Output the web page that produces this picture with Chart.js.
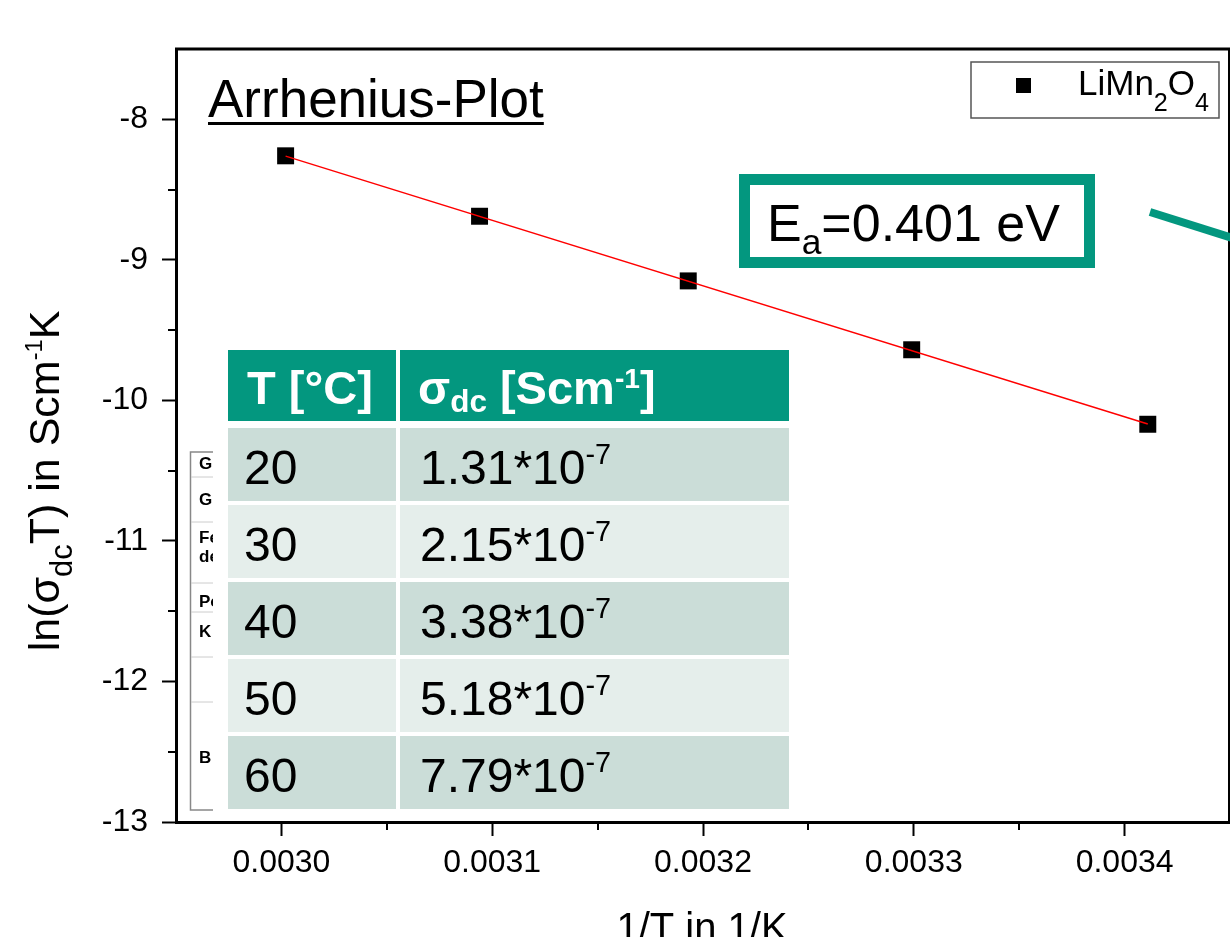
<!DOCTYPE html>
<html>
<head>
<meta charset="utf-8">
<script src="https://cdn.jsdelivr.net/npm/chart.js@4/dist/chart.umd.min.js"></script>
<style>
  html, body { margin: 0; padding: 0; background: #fff; }
</style>
</head>
<body>
<canvas id="arrhenius" width="1230" height="937"></canvas>
<script>
// Messpunkte
const invT = [0.003002, 0.003094, 0.003193, 0.003299, 0.003411];
const lnSigmaT = [-8.26, -8.69, -9.15, -9.64, -10.17];

// rote Ausgleichsgerade
const fitX = [0.003002, 0.003411];
const fitY = [-8.262, -10.168];

// Tabelle
const tableTemps = ["20", "30", "40", "50", "60"];
const tableSigma = ["1.31", "2.15", "3.38", "5.18", "7.79"];
const sigmaExp = "-7";
const activationEnergy = "0.401";

// Achsen
const xTicks = [0.0030, 0.0031, 0.0032, 0.0033, 0.0034];
const xTickLabels = ["0.0030", "0.0031", "0.0032", "0.0033", "0.0034"];
const xMinorTicks = [0.00305, 0.00315, 0.00325, 0.00335];
const yTicks = [-13, -12, -11, -10, -9, -8];
const yTickLabels = ["-13", "-12", "-11", "-10", "-9", "-8"];
const yMinorTicks = [-12.5, -11.5, -10.5, -9.5, -8.5];

const FONT = "'Liberation Sans', Arial, sans-serif";
const TEAL = "#03977f";

Chart.defaults.font.family = FONT;
Chart.defaults.color = "#000";

// text med sub/superscript: [text, storlek, förskjutning]
function richWidth(ctx, parts, size, weight) {
  let w = 0;
  parts.forEach(([t, f]) => {
    ctx.font = weight + " " + (size * f) + "px " + FONT;
    w += ctx.measureText(t).width;
  });
  return w;
}

function drawRich(ctx, x, y, parts, size, weight, color) {
  let cx = x;
  ctx.fillStyle = color;
  ctx.textAlign = "left";
  ctx.textBaseline = "alphabetic";
  parts.forEach(([t, f, dy]) => {
    ctx.font = weight + " " + (size * f) + "px " + FONT;
    ctx.fillText(t, cx, y + dy * size);
    cx += ctx.measureText(t).width;
  });
  return cx - x;
}

function line(ctx, x1, y1, x2, y2) {
  ctx.beginPath();
  ctx.moveTo(x1, y1);
  ctx.lineTo(x2, y2);
  ctx.stroke();
}

const extras = {
  id: "extras",
  afterDraw(chart) {
    const ctx = chart.ctx;
    const a = chart.chartArea;
    const xs = chart.scales.x;
    const ys = chart.scales.y;
    ctx.save();

    // små ticks
    ctx.strokeStyle = "#000";
    ctx.lineWidth = 2;
    xMinorTicks.forEach(v => {
      const px = Math.round(xs.getPixelForValue(v));
      line(ctx, px, a.bottom, px, a.bottom + 8);
    });
    yMinorTicks.forEach(v => {
      const py = Math.round(ys.getPixelForValue(v));
      line(ctx, a.left - 8, py, a.left, py);
    });

    // ram uppe och höger
    ctx.lineWidth = 3;
    line(ctx, a.left - 1, a.top, a.right, a.top);
    ctx.lineWidth = 2;
    line(ctx, a.right - 1, a.top, a.right - 1, a.bottom);

    // rubrik
    ctx.fillStyle = "#000";
    ctx.font = "53px " + FONT;
    ctx.textBaseline = "alphabetic";
    ctx.fillText("Arrhenius-Plot", 208, 117);
    const tw = ctx.measureText("Arrhenius-Plot").width;
    ctx.fillRect(208, 122, tw, 3);

    // legend
    ctx.strokeStyle = "#555";
    ctx.lineWidth = 1.5;
    ctx.strokeRect(971, 62, 248, 56);
    ctx.fillStyle = "#000";
    ctx.fillRect(1016, 78, 15, 15);
    drawRich(ctx, 1078, 95, [["LiMn", 1, 0], ["2", 0.72, 0.45], ["O", 1, 0], ["4", 0.72, 0.45]], 35, "normal", "#000");

    // Ea-ruta
    ctx.strokeStyle = TEAL;
    ctx.lineWidth = 11;
    ctx.strokeRect(744.5, 179.5, 345, 83);
    drawRich(ctx, 767, 241, [["E", 1, 0], ["a", 0.68, 0.25], ["=" + activationEnergy + " eV", 1, 0]], 52, "normal", "#000");
    ctx.lineWidth = 8;
    line(ctx, 1150, 212, 1245, 242);

    // gömd tabell bakom
    ctx.save();
    ctx.beginPath();
    ctx.rect(178, 440, 35, 380);
    ctx.clip();
    ctx.strokeStyle = "#888";
    ctx.lineWidth = 1.5;
    ctx.strokeRect(190.5, 452, 80, 358);
    ctx.strokeStyle = "#ccc";
    ctx.lineWidth = 1;
    [477, 522, 583, 612, 657, 702].forEach(y => line(ctx, 191, y, 213, y));
    ctx.fillStyle = "#000";
    ctx.font = "bold 17px " + FONT;
    ctx.textBaseline = "middle";
    [["G", 464], ["G", 500], ["Fe", 538], ["de", 557], ["Pe", 602], ["K", 632], ["B", 758]].forEach(([t, y]) => {
      ctx.fillText(t, 199, y);
    });
    ctx.restore();

    // tabell
    const c1 = 228, c2 = 400, c3 = 789;
    ctx.fillStyle = TEAL;
    ctx.fillRect(c1, 350, 168, 71);
    ctx.fillRect(c2, 350, c3 - c2, 71);
    drawRich(ctx, 247, 404, [["T [°C]", 1, 0]], 47, "bold", "#fff");
    drawRich(ctx, 418, 404, [["σ", 1, 0], ["dc", 0.67, 0.17], [" [Scm", 1, 0], ["-1", 0.6, -0.33], ["]", 1, 0]], 47, "bold", "#fff");
    tableTemps.forEach((t, i) => {
      const top = 428 + i * 77;
      ctx.fillStyle = i % 2 === 0 ? "#cbddd8" : "#e5eeeb";
      ctx.fillRect(c1, top, 168, 73);
      ctx.fillRect(c2, top, c3 - c2, 73);
      drawRich(ctx, 244, top + 56, [[t, 1, 0]], 48, "normal", "#000");
      drawRich(ctx, 420, top + 56, [[tableSigma[i] + "*10", 1, 0], [sigmaExp, 0.6, -0.42]], 48, "normal", "#000");
    });

    // axeltitlar
    const yParts = [["ln(σ", 1, 0], ["dc", 0.72, 0.3], ["T) in Scm", 1, 0], ["-1", 0.55, -0.4], ["K", 1, 0]];
    const yw = richWidth(ctx, yParts, 43, "normal");
    ctx.save();
    ctx.translate(59, 481);
    ctx.rotate(-Math.PI / 2);
    drawRich(ctx, -yw / 2, 0, yParts, 43, "normal", "#000");
    ctx.restore();

    ctx.font = "40px " + FONT;
    ctx.textAlign = "center";
    ctx.textBaseline = "alphabetic";
    ctx.fillStyle = "#000";
    ctx.fillText("1/T in 1/K", 702, 941);

    ctx.restore();
  }
};

const tickGrid = {
  display: true,
  drawOnChartArea: false,
  drawTicks: true,
  tickLength: 14,
  tickWidth: 2,
  tickColor: "#000"
};

new Chart(document.getElementById("arrhenius"), {
  type: "scatter",
  data: {
    datasets: [
      {
        label: "Fit",
        data: fitX.map((x, i) => ({ x: x, y: fitY[i] })),
        showLine: true,
        borderColor: "#ff0000",
        borderWidth: 1.5,
        pointRadius: 0,
        order: 0
      },
      {
        label: "LiMn2O4",
        data: invT.map((x, i) => ({ x: x, y: lnSigmaT[i] })),
        pointStyle: "rect",
        pointRadius: 12,
        backgroundColor: "#000",
        borderColor: "#000",
        borderWidth: 0,
        order: 1
      }
    ]
  },
  options: {
    responsive: false,
    animation: false,
    devicePixelRatio: 1,
    layout: { autoPadding: false, padding: { top: 49, right: 0, left: 0, bottom: 0 } },
    plugins: { legend: { display: false }, tooltip: { enabled: false } },
    scales: {
      x: {
        type: "linear",
        min: 0.00295,
        max: 0.00345,
        afterBuildTicks: s => { s.ticks = xTicks.map(v => ({ value: v })); },
        afterFit: s => { s.height = 115; s.paddingLeft = 0; s.paddingRight = 0; },
        ticks: {
          callback: (v, i) => xTickLabels[i],
          font: { size: 32 },
          color: "#000",
          padding: 8,
          maxRotation: 0,
          autoSkip: false
        },
        grid: tickGrid,
        border: { display: true, color: "#000", width: 3 }
      },
      y: {
        type: "linear",
        min: -13,
        max: -7.5,
        afterBuildTicks: s => { s.ticks = yTicks.map(v => ({ value: v })); },
        afterFit: s => { s.width = 176; s.paddingTop = 0; s.paddingBottom = 0; },
        ticks: {
          callback: (v, i) => yTickLabels[i],
          font: { size: 32 },
          color: "#000",
          padding: 14,
          autoSkip: false
        },
        grid: tickGrid,
        border: { display: true, color: "#000", width: 3 }
      }
    }
  },
  plugins: [extras]
});
</script>
</body>
</html>
